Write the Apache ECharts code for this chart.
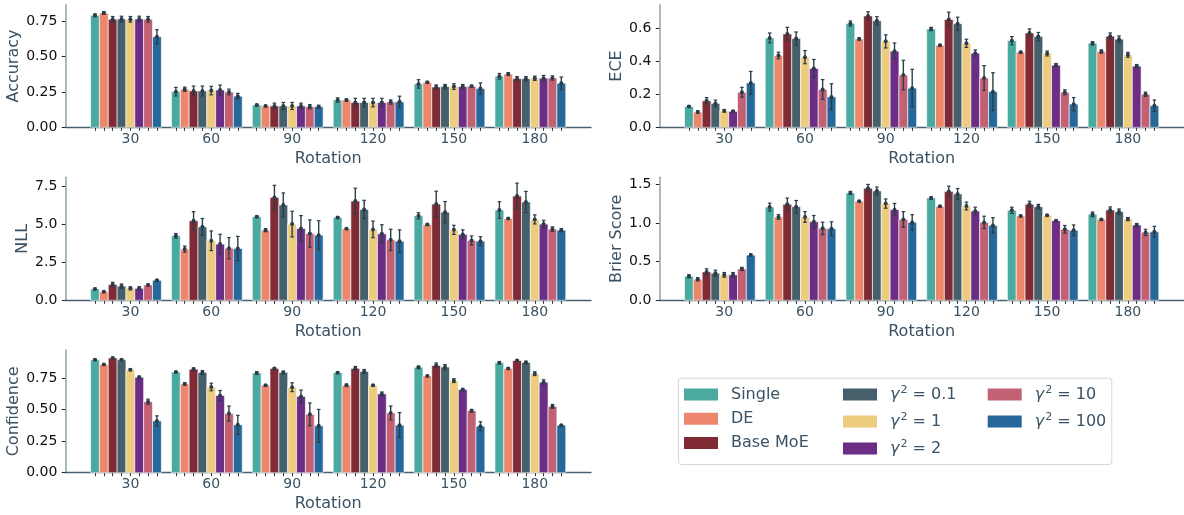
<!DOCTYPE html>
<html><head><meta charset="utf-8">
<script src="https://cdn.jsdelivr.net/npm/echarts@6/dist/echarts.min.js"></script>
<style>html,body{margin:0;padding:0;background:#fff}#c{width:1184px;height:515px}</style>
</head><body><div id="c"></div>
<script>
// ---------- data ----------
const categories = ['30', '60', '90', '120', '150', '180'];
const seriesNames = ['Single', 'DE', 'Base MoE', 'γ² = 0.1', 'γ² = 1', 'γ² = 2', 'γ² = 10', 'γ² = 100'];
const colors = ['#4BAAA0', '#EC876E', '#7F2A34', '#46606B', '#EDCC7F', '#6C2E85', '#C26074', '#266899'];

// rows = series (in seriesNames order), columns = rotation categories
const accuracy = [
  [0.792, 0.252, 0.158, 0.193, 0.307, 0.361],
  [0.809, 0.269, 0.151, 0.193, 0.318, 0.377],
  [0.764, 0.257, 0.151, 0.175, 0.285, 0.344],
  [0.766, 0.257, 0.151, 0.175, 0.288, 0.344],
  [0.764, 0.260, 0.151, 0.175, 0.288, 0.347],
  [0.766, 0.264, 0.151, 0.175, 0.288, 0.347],
  [0.764, 0.250, 0.146, 0.179, 0.290, 0.349],
  [0.641, 0.220, 0.146, 0.180, 0.274, 0.311]
];
const accuracyErr = [
  [0.01, 0.03, 0.005, 0.015, 0.03, 0.02],
  [0.01, 0.015, 0.005, 0.007, 0.005, 0.01],
  [0.02, 0.035, 0.02, 0.03, 0.015, 0.015],
  [0.02, 0.035, 0.025, 0.03, 0.015, 0.015],
  [0.02, 0.03, 0.025, 0.03, 0.02, 0.015],
  [0.02, 0.035, 0.02, 0.03, 0.015, 0.02],
  [0.02, 0.02, 0.015, 0.015, 0.008, 0.015],
  [0.05, 0.02, 0.01, 0.04, 0.04, 0.045]
];
const ece = [
  [0.127, 0.544, 0.632, 0.598, 0.527, 0.511],
  [0.093, 0.437, 0.538, 0.499, 0.457, 0.461],
  [0.161, 0.568, 0.678, 0.656, 0.574, 0.554],
  [0.145, 0.540, 0.648, 0.630, 0.552, 0.536],
  [0.100, 0.427, 0.523, 0.511, 0.449, 0.441],
  [0.097, 0.358, 0.463, 0.451, 0.378, 0.372],
  [0.213, 0.230, 0.318, 0.300, 0.213, 0.201],
  [0.270, 0.185, 0.238, 0.217, 0.141, 0.131]
];
const eceErr = [
  [0.005, 0.03, 0.015, 0.01, 0.025, 0.01],
  [0.007, 0.02, 0.007, 0.005, 0.005, 0.01],
  [0.02, 0.04, 0.025, 0.045, 0.025, 0.02],
  [0.02, 0.04, 0.025, 0.04, 0.025, 0.02],
  [0.008, 0.04, 0.04, 0.025, 0.015, 0.015],
  [0.005, 0.055, 0.05, 0.02, 0.01, 0.01],
  [0.03, 0.06, 0.09, 0.075, 0.015, 0.013],
  [0.07, 0.08, 0.115, 0.115, 0.04, 0.035]
];
const nll = [
  [0.75, 4.26, 5.52, 5.47, 5.58, 5.96],
  [0.57, 3.38, 4.63, 4.72, 5.00, 5.40],
  [1.04, 5.25, 6.79, 6.55, 6.35, 6.88],
  [0.93, 4.85, 6.29, 6.00, 5.82, 6.49],
  [0.79, 3.93, 5.03, 4.68, 4.65, 5.34],
  [0.79, 3.71, 4.74, 4.39, 4.35, 5.03],
  [1.01, 3.44, 4.41, 3.99, 3.95, 4.70],
  [1.32, 3.42, 4.30, 3.90, 3.90, 4.63]
];
const nllErr = [
  [0.05, 0.15, 0.05, 0.05, 0.2, 0.55],
  [0.05, 0.2, 0.1, 0.03, 0.05, 0.05],
  [0.15, 0.6, 0.8, 0.85, 0.85, 0.85],
  [0.15, 0.55, 0.8, 0.6, 0.7, 0.7],
  [0.1, 0.65, 0.85, 0.55, 0.3, 0.3],
  [0.1, 0.65, 0.85, 0.6, 0.3, 0.25],
  [0.07, 0.7, 0.9, 0.7, 0.3, 0.15],
  [0.05, 0.8, 0.95, 0.75, 0.3, 0.1]
];
const brier = [
  [0.311, 1.206, 1.388, 1.323, 1.163, 1.111],
  [0.272, 1.077, 1.280, 1.215, 1.090, 1.046],
  [0.367, 1.241, 1.448, 1.405, 1.241, 1.167],
  [0.350, 1.210, 1.414, 1.375, 1.210, 1.146],
  [0.329, 1.077, 1.250, 1.219, 1.098, 1.050],
  [0.329, 1.016, 1.172, 1.154, 1.029, 0.973],
  [0.406, 0.930, 1.046, 1.007, 0.917, 0.878],
  [0.584, 0.925, 1.007, 0.968, 0.904, 0.886]
];
const brierErr = [
  [0.02, 0.05, 0.02, 0.015, 0.04, 0.03],
  [0.02, 0.03, 0.01, 0.01, 0.01, 0.01],
  [0.04, 0.08, 0.05, 0.07, 0.04, 0.04],
  [0.04, 0.08, 0.05, 0.07, 0.03, 0.035],
  [0.03, 0.07, 0.06, 0.05, 0.01, 0.02],
  [0.03, 0.08, 0.08, 0.05, 0.01, 0.02],
  [0.02, 0.08, 0.1, 0.08, 0.05, 0.04],
  [0.015, 0.09, 0.1, 0.1, 0.07, 0.07]
];
const confidence = [
  [0.894, 0.797, 0.789, 0.792, 0.834, 0.870],
  [0.857, 0.703, 0.692, 0.692, 0.766, 0.826],
  [0.909, 0.820, 0.826, 0.826, 0.849, 0.888],
  [0.894, 0.794, 0.794, 0.802, 0.836, 0.873],
  [0.815, 0.679, 0.677, 0.692, 0.729, 0.784],
  [0.755, 0.611, 0.604, 0.624, 0.658, 0.716],
  [0.562, 0.468, 0.462, 0.473, 0.491, 0.525],
  [0.410, 0.379, 0.371, 0.376, 0.368, 0.376]
];
const confidenceErr = [
  [0.005, 0.005, 0.01, 0.005, 0.01, 0.01],
  [0.005, 0.01, 0.005, 0.01, 0.005, 0.005],
  [0.005, 0.01, 0.005, 0.015, 0.02, 0.005],
  [0.005, 0.015, 0.01, 0.015, 0.02, 0.01],
  [0.007, 0.03, 0.035, 0.005, 0.015, 0.015],
  [0.01, 0.04, 0.05, 0.015, 0.005, 0.02],
  [0.02, 0.06, 0.09, 0.055, 0.01, 0.015],
  [0.04, 0.075, 0.13, 0.1, 0.035, 0.005]
];
const accuracyTicks = [0, 0.25, 0.5, 0.75];
const eceTicks = [0, 0.2, 0.4, 0.6];
const nllTicks = [0, 2.5, 5, 7.5];
const brierTicks = [0, 0.5, 1, 1.5];
const confidenceTicks = [0, 0.25, 0.5, 0.75];

// ---------- layout / style ----------
const FONT = 'DejaVu Sans';
const SLATE = '#3a5263';
const ERR = '#2b3d4a';
const SLOT = 0.1094; // one bar slot, in category units
const nS = seriesNames.length;

const panels = [
  { name: 'Accuracy', mean: accuracy, err: accuracyErr, ticks: accuracyTicks, dec: 2, max: 0.8675,
    grid: { left: 65.3, top: 4.7, width: 525.7, height: 122.6 }, nameGap: 42 },
  { name: 'ECE', mean: ece, err: eceErr, ticks: eceTicks, dec: 1, max: 0.746,
    grid: { left: 659.3, top: 4.7, width: 524.7, height: 122.6 }, nameGap: 32.5 },
  { name: 'NLL', mean: nll, err: nllErr, ticks: nllTicks, dec: 1, max: 8.12,
    grid: { left: 65.3, top: 177.3, width: 525.7, height: 123 }, nameGap: 32.5 },
  { name: 'Brier Score', mean: brier, err: brierErr, ticks: brierTicks, dec: 1, max: 1.59,
    grid: { left: 659.3, top: 177.3, width: 524.7, height: 123 }, nameGap: 32.5 },
  { name: 'Confidence', mean: confidence, err: confidenceErr, ticks: confidenceTicks, dec: 2, max: 0.9715,
    grid: { left: 65.3, top: 350, width: 525.7, height: 122.7 }, nameGap: 42 }
];

const barCenters = [];
categories.forEach((c, ci) => { for (let h = 0; h < nS; h++) barCenters.push(ci + (h - (nS - 1) / 2) * SLOT); });
const labelPositions = categories.map((c, ci) => ci + 0.5 * SLOT);

function makeRender(h) {
  return function (params, api) {
    const ci = api.value(0), v = api.value(1), e = api.value(2);
    const xc = ci + (h - (nS - 1) / 2) * SLOT;
    const base = api.coord([xc, 0]);
    const top = api.coord([xc, v]);
    const hi = api.coord([xc, v + e]);
    const lo = api.coord([xc, v - e]);
    const w = api.size([SLOT, 0])[0];
    const cap = 1.8;
    return {
      type: 'group',
      children: [
        { type: 'rect', shape: { x: base[0] - w / 2, y: top[1], width: w, height: base[1] - top[1] },
          style: { fill: colors[h], stroke: 'rgba(255,255,255,0.6)', lineWidth: 1 } },
        { type: 'line', shape: { x1: top[0], y1: hi[1], x2: top[0], y2: lo[1] }, style: { stroke: ERR, lineWidth: 1.4 } },
        { type: 'line', shape: { x1: top[0] - cap, y1: hi[1], x2: top[0] + cap, y2: hi[1] }, style: { stroke: ERR, lineWidth: 1.2 } },
        { type: 'line', shape: { x1: top[0] - cap, y1: lo[1], x2: top[0] + cap, y2: lo[1] }, style: { stroke: ERR, lineWidth: 1.2 } },
        { type: 'circle', shape: { cx: top[0], cy: top[1], r: 2 }, style: { fill: ERR } }
      ]
    };
  };
}

const grids = [], xAxes = [], yAxes = [], series = [];
panels.forEach((p, i) => {
  grids.push(Object.assign({ containLabel: false }, p.grid));
  xAxes.push({
    gridIndex: i, type: 'value', min: -0.75, max: categories.length - 0.25,
    axisLine: { show: true, onZero: false, lineStyle: { color: '#4a6070', width: 1.3 } },
    axisTick: { show: true, customValues: barCenters, length: 3.5, lineStyle: { color: '#333', width: 1 } },
    axisLabel: { show: true, customValues: labelPositions, formatter: v => categories[Math.round(v)],
      margin: 5, fontSize: 14, color: SLATE, fontFamily: FONT },
    splitLine: { show: false },
    name: 'Rotation', nameLocation: 'middle', nameGap: 23.5,
    nameTextStyle: { fontSize: 16, color: SLATE, fontFamily: FONT }
  });
  yAxes.push({
    gridIndex: i, type: 'value', min: 0, max: p.max,
    axisLine: { show: true, onZero: false, lineStyle: { color: '#8fa2ac', width: 1.5 } },
    axisTick: { show: true, customValues: p.ticks, length: 3.5, lineStyle: { color: '#222', width: 1 } },
    axisLabel: { show: true, customValues: p.ticks, formatter: v => Number(v).toFixed(p.dec),
      margin: 8, fontSize: 14, color: '#111', fontFamily: FONT },
    splitLine: { show: false },
    name: p.name, nameLocation: 'middle', nameGap: p.nameGap, nameRotate: 90,
    nameTextStyle: { fontSize: 16, color: SLATE, fontFamily: FONT }
  });
  for (let h = 0; h < nS; h++) {
    series.push({
      type: 'custom', name: seriesNames[h], xAxisIndex: i, yAxisIndex: i,
      itemStyle: { color: colors[h] }, clip: false,
      data: categories.map((c, ci) => [ci, p.mean[h][ci], p.err[h][ci]]),
      renderItem: makeRender(h)
    });
  }
});

const legendRich = {
  g: { fontSize: 16, fontStyle: 'italic', color: SLATE, fontFamily: FONT },
  s: { fontSize: 11, color: SLATE, fontFamily: FONT, verticalAlign: 'top', padding: [0, 0, 7, 1] },
  t: { fontSize: 16, color: SLATE, fontFamily: FONT }
};
function legendFmt(name) {
  if (name.charAt(0) === 'γ') {
    const val = name.split('=')[1].trim();
    return '{g|γ}{s|2}{t| = ' + val + '}';
  }
  return name;
}
function mkLegend(names, left, top, gap) {
  return {
    data: names, orient: 'vertical', left: left, top: top, padding: 0,
    itemWidth: 34, itemHeight: 12, itemGap: gap, icon: 'rect', selectedMode: false,
    formatter: legendFmt,
    textStyle: { fontSize: 16, color: SLATE, fontFamily: FONT, lineHeight: 20, padding: [0, 0, 0, 8], rich: legendRich }
  };
}

const option = {
  animation: false,
  textStyle: { fontFamily: FONT },
  grid: grids, xAxis: xAxes, yAxis: yAxes, series: series,
  legend: [
    mkLegend(seriesNames.slice(0, 3), 684, 384.5, 4.3),
    mkLegend(seriesNames.slice(3, 6), 843, 384.5, 7),
    mkLegend(seriesNames.slice(6, 8), 987.7, 384.5, 7)
  ],
  graphic: [{
    type: 'rect', left: 678, top: 377.7, z: 0,
    shape: { width: 433.3, height: 86.3, r: 3 },
    style: { fill: '#fff', stroke: '#d6d6d6', lineWidth: 1 }
  }]
};

const chart = echarts.init(document.getElementById('c'));
chart.setOption(option);
</script>
</body></html>
